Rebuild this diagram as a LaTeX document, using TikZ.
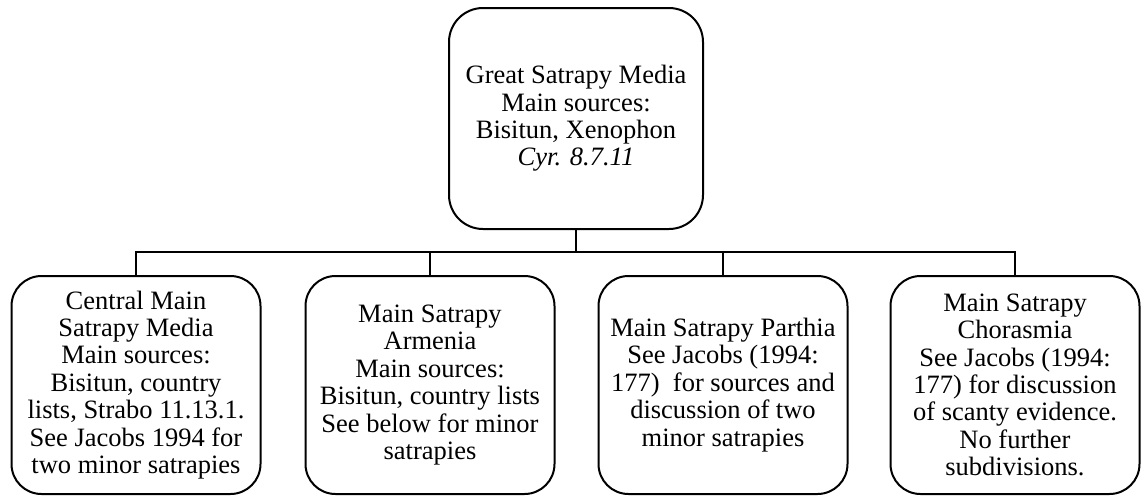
\documentclass[tikz,border=0pt]{standalone}
\usepackage{fontspec}
\setmainfont{Liberation Serif}
\begin{document}
\begin{tikzpicture}[x=1pt,y=1pt,
  boxstyle/.style={draw, line width=2pt, rectangle, rounded corners=30pt, align=center,
    inner sep=0pt, font=\fontsize{26.5}{27.4}\selectfont},
  topbox/.style={boxstyle, minimum width=254pt, minimum height=221pt, rounded corners=34pt},
  subbox/.style={boxstyle, minimum width=249pt, minimum height=218pt},
  link/.style={line width=1.8pt}]
\useasboundingbox (0,0) rectangle (1144,-496);
\node[topbox] (top) at (576,-118.5) {Great Satrapy Media\\Main sources:\\Bisitun, Xenophon\\\textit{Cyr. 8.7.11}};
\node[subbox] (b1) at (136,-385) {Central Main\\Satrapy Media\\Main sources:\\Bisitun, country\\lists, Strabo 11.13.1.\\See Jacobs 1994 for\\two minor satrapies};
\node[subbox] (b2) at (430,-385) {Main Satrapy\\Armenia\\Main sources:\\Bisitun, country lists\\See below for minor\\satrapies};
\node[subbox] (b3) at (723,-385) {Main Satrapy Parthia\\See Jacobs (1994:\\177) \ for sources and\\discussion of two\\minor satrapies};
\node[subbox] (b4) at (1015,-385) {Main Satrapy\\Chorasmia\\See Jacobs (1994:\\177) for discussion\\of scanty evidence.\\No further\\subdivisions.};
\coordinate (bus) at (0,-252);
\draw[link] (top.south) -- (top.south |- bus);
\draw[link] (b1.north) -- (b1.north |- bus) -- (b4.north |- bus) -- (b4.north);
\draw[link] (b2.north) -- (b2.north |- bus);
\draw[link] (b3.north) -- (b3.north |- bus);
\end{tikzpicture}
\end{document}
